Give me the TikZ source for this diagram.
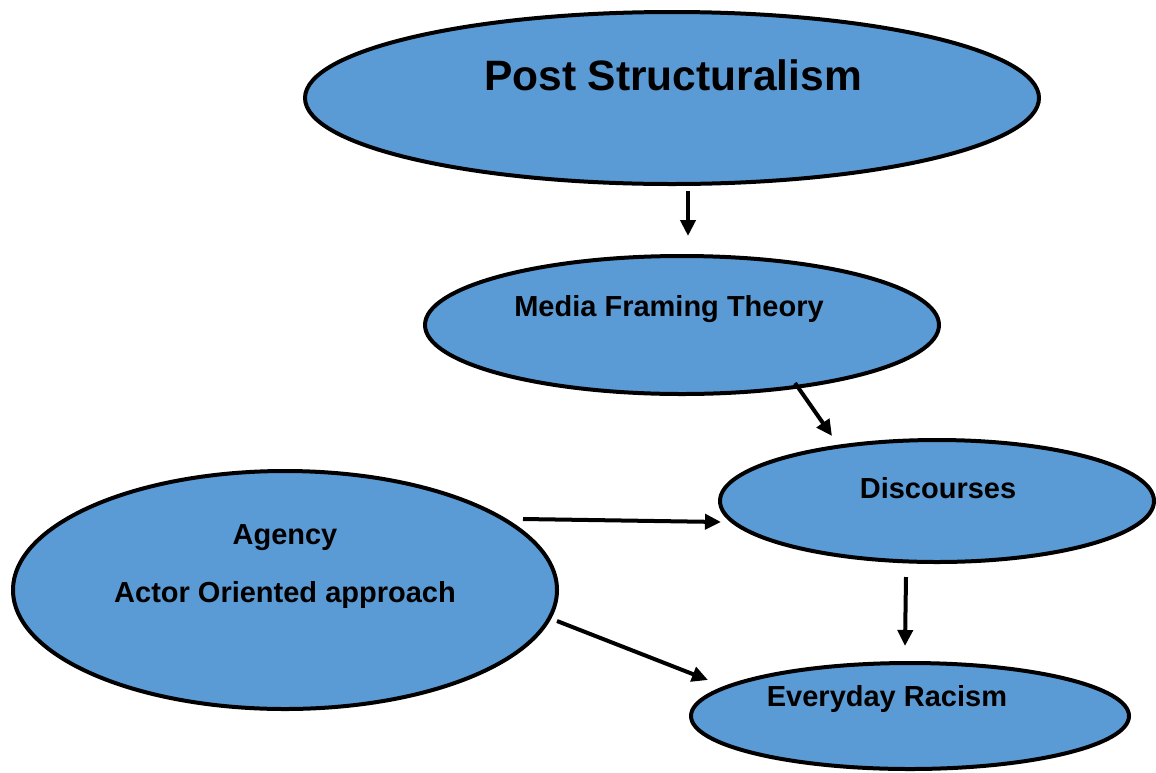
\documentclass[tikz,border=0pt]{standalone}
\usepackage{fontspec}
\setmainfont{Liberation Sans}
\usetikzlibrary{shapes.geometric,arrows.meta}
\definecolor{fillblue}{HTML}{5B9BD5}
\begin{document}
\begin{tikzpicture}[x=1pt,y=-1pt,
  oval/.style={ellipse,draw=black,line width=4pt,fill=fillblue,inner sep=0pt},
  lbl/.style={anchor=base,font=\bfseries\fontsize{29}{34}\selectfont,inner sep=0pt},
  arr/.style={line width=4pt,-{Triangle[length=16pt,width=15pt]}}]
\useasboundingbox (0,0) rectangle (1156,772);
\node[oval,minimum width=734pt,minimum height=172pt] (post) at (672,98) {};
\node[oval,minimum width=514pt,minimum height=138pt] (media) at (682,325) {};
\node[oval,minimum width=434pt,minimum height=122pt] (disc) at (937,501) {};
\node[oval,minimum width=544pt,minimum height=238pt] (agency) at (285,590) {};
\node[oval,minimum width=438pt,minimum height=106pt] (racism) at (910,716) {};
\node[lbl,font=\bfseries\fontsize{42.5}{48}\selectfont] (tpost) at (673,90) {Post Structuralism};
\node[lbl] (tmedia) at (669,316) {Media Framing Theory};
\node[lbl] (tdisc) at (938,498) {Discourses};
\node[lbl] (tagency) at (285,544) {Agency};
\node[lbl] (tactor) at (285,602) {Actor Oriented approach};
\node[lbl] (tracism) at (887,706) {Everyday Racism};
\coordinate (a1s) at (688,191);
\coordinate (a1e) at (688,236);
\coordinate (a2s) at (795,383);
\coordinate (a2e) at (832,436);
\coordinate (a3s) at (523,519);
\coordinate (a3e) at (721,522);
\coordinate (a4s) at (557,621);
\coordinate (a4e) at (708,680);
\coordinate (a5s) at (906,577);
\coordinate (a5e) at (905,646);
\draw[arr] (a1s) -- (a1e);
\draw[arr] (a2s) -- (a2e);
\draw[arr] (a3s) -- (a3e);
\draw[arr] (a4s) -- (a4e);
\draw[arr] (a5s) -- (a5e);
\end{tikzpicture}
\end{document}
